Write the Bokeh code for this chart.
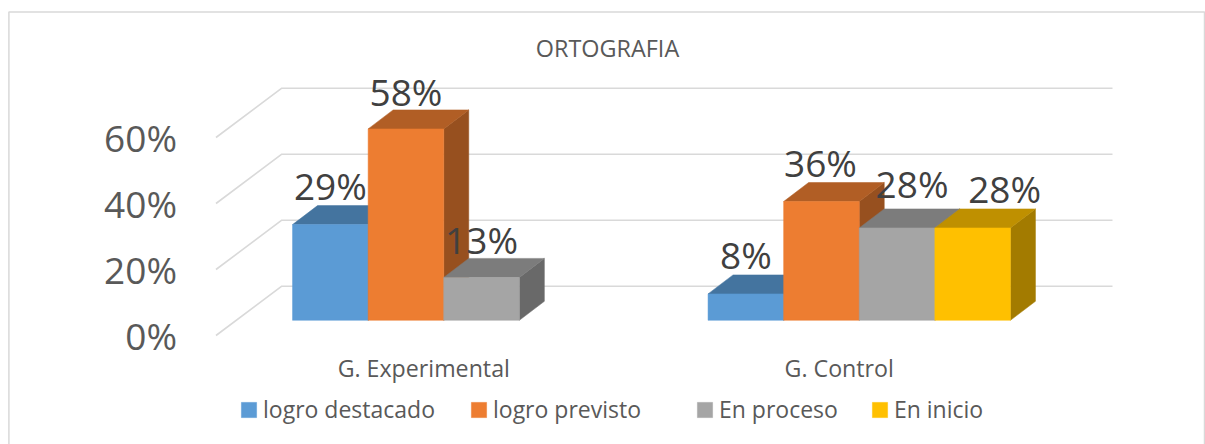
from bokeh.plotting import figure
from bokeh.models import (ColumnDataSource, FixedTicker, Legend, LegendItem, LinearAxis, Range1d)
from bokeh.core.properties import value
from bokeh.embed import file_html
from bokeh.resources import INLINE

# ---- data ----
categories = ["G. Experimental", "G. Control"]
series_names = ["logro destacado", "logro previsto", "En proceso", "En inicio"]
logro_destacado = [29, 8]
logro_previsto = [58, 36]
en_proceso = [13, 28]
en_inicio = [None, 28]
y_ticks = [0, 20, 40, 60]
y_tick_labels = ["0%", "20%", "40%", "60%"]
chart_title = "ORTOGRAFIA"

series_values = [logro_destacado, logro_previsto, en_proceso, en_inicio]
front_colors = ["#5B9BD5", "#ED7D31", "#A5A5A5", "#FFC000"]
top_colors = ["#44749F", "#B15E25", "#7C7C7C", "#BF9000"]
side_colors = ["#3A6388", "#97501F", "#696969", "#A37B00"]

# ---- layout and pseudo-3D projection ----
FONT = "Open Sans"
W, H = 1205, 444
ORIGIN_X, ORIGIN_Y = 215.5, 335   # pixel position of the value 0 on the front edge
PX_X = 415.5                      # pixels per category
PX_Y = 3.3                        # pixels per percentage point


def data_x(px):
    return (px - ORIGIN_X) / PX_X


def data_y(py):
    return (ORIGIN_Y - py) / PX_Y


BAR_W = 75.6 / PX_X
FLOOR_DX, FLOOR_DY = 20 / PX_X, 15.2 / PX_Y
BAR_DX, BAR_DY = 25 / PX_X, 19 / PX_Y
WALL_DX, WALL_DY = 65.8 / PX_X, 49.3 / PX_Y
WALL_END = data_x(1112)

p = figure(width=W, height=H, output_backend="svg", toolbar_location=None,
           x_range=Range1d(data_x(0), data_x(W)), y_range=Range1d(data_y(H), data_y(0)),
           x_axis_location=None, y_axis_location=None,
           min_border=0, outline_line_color=None,
           background_fill_color="white", border_fill_color="white")
p.grid.visible = False

# chart border (its lower edge lies below the picture)
p.line([data_x(8.4), data_x(8.4), data_x(1204), data_x(1204)],
       [data_y(H + 5), data_y(11.5), data_y(11.5), data_y(H + 5)],
       line_color="#D9D9D9", line_width=1.5)

# title
p.text([data_x(607)], [data_y(47.5)], text=[chart_title], text_align="center", text_baseline="middle",
       text_font=value(FONT), text_font_size="23.4px", text_color="#595959")

# wall grid lines
for t in y_ticks:
    p.line([0, WALL_DX, WALL_END], [t, t + WALL_DY, t + WALL_DY], line_color="#D9D9D9", line_width=1.6)

# axes
yax = LinearAxis(fixed_location=0, ticker=FixedTicker(ticks=y_ticks),
                 major_label_overrides=dict(zip(y_ticks, y_tick_labels)))
cat_pos = [i + 0.5 for i in range(len(categories))]
xax = LinearAxis(fixed_location=0, ticker=FixedTicker(ticks=cat_pos),
                 major_label_overrides=dict(zip(cat_pos, categories)))
for ax in (xax, yax):
    ax.axis_line_color = None
    ax.major_tick_line_color = None
    ax.minor_tick_line_color = None
    ax.major_label_text_color = "#595959"
    ax.major_label_text_font = FONT
yax.major_label_text_font_size = "37px"
yax.major_label_standoff = 33
xax.major_label_text_font_size = "23.2px"
xax.major_label_standoff = 10
p.add_layout(yax, "left")
p.add_layout(xax, "below")

# bars
front_rend = []
lab_x, lab_y, lab_t = [], [], []
for s, vals in enumerate(series_values):
    fxs, fys, txs, tys, sxs, sys_ = [], [], [], [], [], []
    for g, v in enumerate(vals):
        if v is None:
            continue
        x0 = g + (1 - 4 * BAR_W) / 2 + s * BAR_W + FLOOR_DX
        x1 = x0 + BAR_W
        y0 = FLOOR_DY
        y1 = v + FLOOR_DY
        fxs.append([x0, x1, x1, x0]); fys.append([y0, y0, y1, y1])
        txs.append([x0, x1, x1 + BAR_DX, x0 + BAR_DX]); tys.append([y1, y1, y1 + BAR_DY, y1 + BAR_DY])
        sxs.append([x1, x1 + BAR_DX, x1 + BAR_DX, x1]); sys_.append([y0, y0 + BAR_DY, y1 + BAR_DY, y1])
        lab_x.append((x0 + x1) / 2); lab_y.append(y1); lab_t.append(f"{v}%")
    p.patches(sxs, sys_, fill_color=side_colors[s], line_color=side_colors[s], line_width=0.5)
    p.patches(txs, tys, fill_color=top_colors[s], line_color=top_colors[s], line_width=0.5)
    front_rend.append(p.patches(fxs, fys, fill_color=front_colors[s], line_color=front_colors[s], line_width=0.5))

# data labels, in the order series then group: 29, 8, 58, 36, 13, 28, 28
src = ColumnDataSource(dict(x=lab_x, y=lab_y, text=lab_t,
                            dx=[0, 0, 0, -1, 0, 15, 32],
                            dy=[-38.7, -39.7, -37, -38.6, -38, -44, -39.7]))
p.text("x", "y", text="text", source=src, x_offset="dx", y_offset="dy", text_align="center",
       text_baseline="middle", text_font=value(FONT), text_font_size="37px", text_color="#404040")


# legend: two blocks, because the gap in the middle is wider
def make_legend(idx, left_px, gap):
    lg = Legend(items=[LegendItem(label=series_names[i], renderers=[front_rend[i]]) for i in idx],
                orientation="horizontal", location=(left_px, H - 425), glyph_width=19, glyph_height=19,
                label_standoff=5, spacing=gap, padding=0, margin=0,
                background_fill_alpha=0, border_line_color=None,
                label_text_font=FONT, label_text_font_size="23px", label_text_color="#595959")
    p.add_layout(lg, "center")


make_legend([0, 1], 239, 34)
make_legend([2, 3], 695, 32)

open("out.html", "w").write(file_html(p, INLINE))
